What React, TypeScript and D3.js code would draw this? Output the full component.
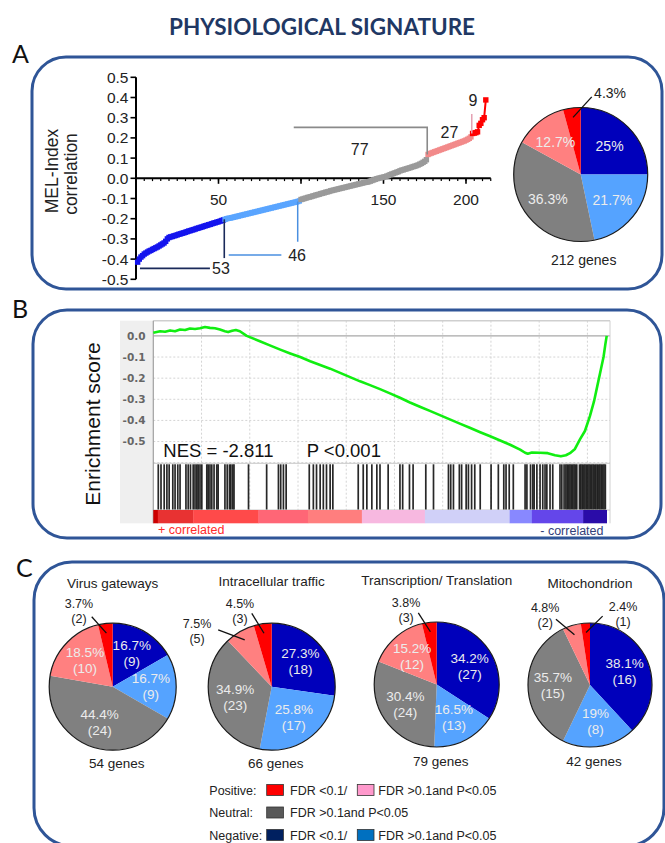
import React from "react";
import * as d3 from "d3";

const FONT = "Liberation Sans, Arial, Helvetica, sans-serif";
const HEAD_FONT = "Lato, Open Sans, sans-serif";

// ---------------- Panel A data ----------------
const melCorrelation = [
  -0.415, -0.4, -0.39, -0.383, -0.375, -0.37, -0.365, -0.36, -0.357, -0.352,
  -0.348, -0.344, -0.34, -0.335, -0.33, -0.325, -0.32, -0.312, -0.3, -0.293,
  -0.29, -0.288, -0.285, -0.283, -0.28, -0.277, -0.275, -0.272, -0.27, -0.267,
  -0.264, -0.261, -0.259, -0.256, -0.254, -0.251, -0.248, -0.246, -0.243, -0.241,
  -0.238, -0.235, -0.233, -0.23, -0.228, -0.225, -0.222, -0.22, -0.217, -0.215,
  -0.212, -0.209, -0.206,
  -0.203, -0.2, -0.198, -0.197, -0.195, -0.193, -0.191, -0.189, -0.187, -0.185,
  -0.183, -0.181, -0.179, -0.177, -0.175, -0.173, -0.171, -0.169, -0.167, -0.165,
  -0.163, -0.161, -0.159, -0.157, -0.155, -0.153, -0.151, -0.149, -0.147, -0.145,
  -0.143, -0.141, -0.139, -0.137, -0.135, -0.133, -0.131, -0.129, -0.127, -0.125,
  -0.123, -0.121, -0.119, -0.117, -0.115, -0.112,
  -0.105, -0.103, -0.1, -0.098, -0.095, -0.093, -0.091, -0.088, -0.086, -0.083,
  -0.081, -0.079, -0.076, -0.074, -0.072, -0.069, -0.067, -0.065, -0.062, -0.06, -0.058,
  -0.056, -0.054, -0.052, -0.05, -0.048, -0.046, -0.044, -0.042, -0.04, -0.038,
  -0.036, -0.034, -0.032, -0.03, -0.028, -0.026, -0.024, -0.022, -0.02, -0.019, -0.017,
  -0.014, -0.011, -0.008, -0.005, -0.002, 0.0, 0.002, 0.004, 0.006, 0.008,
  0.011, 0.014, 0.018, 0.021, 0.024, 0.027, 0.03, 0.033, 0.037, 0.04,
  0.042, 0.045, 0.047, 0.05, 0.052, 0.055, 0.058, 0.06, 0.063, 0.066,
  0.07, 0.074, 0.079, 0.084, 0.092,
  0.118, 0.122, 0.125, 0.128, 0.131, 0.134, 0.137, 0.14, 0.143, 0.146,
  0.149, 0.152, 0.155, 0.158, 0.161, 0.164, 0.167, 0.17, 0.173, 0.176,
  0.179, 0.182, 0.185, 0.189, 0.193, 0.198, 0.205,
  0.222, 0.224, 0.226, 0.23, 0.262, 0.272, 0.29, 0.3, 0.388,
];
const groupLabels = ["Negative FDR<0.1", "Negative FDR>0.1 P<0.05", "Neutral", "Positive FDR>0.1 P<0.05", "Positive FDR<0.1"];
const groupCounts = [53, 46, 77, 27, 9];
const corrTicks = [-0.5, -0.4, -0.3, -0.2, -0.1, 0, 0.1, 0.2, 0.3, 0.4, 0.5];
const rankTicks = [50, 100, 150, 200];
const rankTickLabels = ["50", "", "150", "200"];
const pieAPct = ["25%", "21.7%", "36.3%", "12.7%", "4.3%"];
const totalGenesA = 212;

// ---------------- Panel B data ----------------
const rankedListSize = 18800;
const esRankPct = [
  0, 1.5, 2.6, 3.7, 4.8, 5.9, 7.0, 8.1, 9.2, 10.3,
  11.4, 12.5, 13.6, 14.7, 15.8, 16.5, 17.4, 18.2, 19.1, 20.6,
  23.5, 25.7, 28.0, 30.2, 32.4, 34.6, 36.8, 39.0, 41.2, 43.4,
  45.6, 47.8, 50.0, 52.2, 54.4, 56.6, 58.8, 61.0, 63.2, 65.4,
  67.6, 69.8, 72.1, 74.3, 76.5, 78.7, 80.9, 82.0, 82.6, 83.5,
  85.3, 87.0, 88.6, 89.9, 91.0, 91.9, 93.0, 94.1, 95.2, 96.3,
  97.2, 98.1, 98.7, 99.3, 99.7, 100,
];
const esScore = [
  0.015, 0.022, 0.02, 0.026, 0.022, 0.03, 0.028, 0.035, 0.033, 0.036,
  0.042, 0.038, 0.036, 0.03, 0.022, 0.018, 0.024, 0.028, 0.022, 0.0,
  -0.025, -0.045, -0.065, -0.083, -0.1, -0.12, -0.138, -0.155, -0.175, -0.195,
  -0.215, -0.233, -0.252, -0.272, -0.293, -0.315, -0.335, -0.355, -0.375, -0.395,
  -0.415, -0.435, -0.456, -0.475, -0.495, -0.515, -0.538, -0.553, -0.558, -0.552,
  -0.553, -0.555, -0.565, -0.57, -0.565, -0.555, -0.535, -0.49, -0.45, -0.38,
  -0.31, -0.22, -0.16, -0.1, -0.04, 0.0,
];
const hitRankPct = [
  1.1, 1.7, 2.4, 3.0, 3.5, 4.3, 4.8, 5.4, 5.9, 7.2, 7.7, 8.2, 8.8, 9.2, 9.6, 9.9,
  10.3, 10.7, 11.8, 12.1, 12.5, 12.9, 13.4, 14.0, 14.3, 15.8, 16.3, 16.8, 17.1, 17.5, 17.8,
  21.0, 25.0, 27.6, 28.1, 28.7, 29.3, 34.4, 35.3, 36.0, 36.8, 37.5, 38.2, 39.0, 39.6,
  45.2, 46.3, 47.1, 48.2, 49.3, 50.0, 51.8, 54.4, 55.0, 56.5, 57.3, 60.1, 61.8,
  65.1, 65.6, 66.2, 67.5, 68.0, 69.0, 69.5, 70.2, 70.9, 72.1, 74.5, 76.1, 77.3,
  77.8, 78.5, 79.4, 82.0, 82.4, 83.2, 83.7, 84.0, 84.6, 85.3, 85.9, 86.4, 86.8,
  87.5, 88.1, 89.7, 90.1, 90.6, 91.0, 91.3, 91.6, 91.9, 92.2, 92.5, 92.8, 93.1,
  93.4, 94.0, 94.3, 94.6, 94.9, 95.2, 95.5, 95.8, 96.1, 96.4, 96.7, 97.0, 97.3,
  97.6, 97.9, 98.2, 98.5, 98.8, 99.1, 99.4, 99.7,
];
const esTicks = [0, -0.1, -0.2, -0.3, -0.4, -0.5];
const rankBarBreaksPct = [0, 1.0, 8.8, 23.2, 34.1, 46.0, 59.9, 78.6, 83.5, 94.8, 100];
const rankBarColors = ["#cc0000", "#e83232", "#ff4a4a", "#ff6676", "#ff7e7e", "#f7b8e0", "#d0d0f8", "#8888ff", "#6446ea", "#2a0ca8"];
const nesLabel = "NES = -2.811";
const pLabel = "P <0.001";

// ---------------- Panel C data ----------------
const categories = ["Virus gateways", "Intracellular traffic", "Transcription/ Translation", "Mitochondrion"];
const categoryCounts = [
  [9, 9, 24, 10, 2],
  [18, 17, 23, 5, 3],
  [27, 13, 24, 12, 3],
  [16, 8, 15, 2, 1],
];
const categoryPct = [
  ["16.7%", "16.7%", "44.4%", "18.5%", "3.7%"],
  ["27.3%", "25.8%", "34.9%", "7.5%", "4.5%"],
  ["34.2%", "16.5%", "30.4%", "15.2%", "3.8%"],
  ["38.1%", "19%", "35.7%", "4.8%", "2.4%"],
];
const legendRowLabels = ["Positive:", "Neutral:", "Negative:"];
const legendItems = [
  ["FDR <0.1/", "FDR >0.1and P<0.05"],
  ["FDR >0.1and P<0.05"],
  ["FDR <0.1/", "FDR >0.1and P<0.05"],
];

// ---------------- styles / layout ----------------
const BOX = "#2f5597";
const scatterColors = ["#1414ee", "#5aa5ff", "#9a9a9a", "#f28a8a", "#ff0000"];
const pieColors = ["#0000bb", "#55a3ff", "#808080", "#ff8080", "#ff0000"];
const legendColors = [["#ff0000", "#ff99cc"], ["#595959"], ["#002060", "#0070c0"]];
const pieCenters = [[112.7, 686.7], [271.7, 686.7], [436.7, 684.5], [590, 685]];
const pieRadii = [63.5, 63.5, 62.5, 62];
const titleBaselines = [588, 586, 585, 588];
const calloutsC = [
  [{ slice: 4, outer: [343.3, 73], label: [336, 83] }],
  [{ slice: 3, outer: [316.7, 78], label: [306.6, 93] }, { slice: 4, outer: [344.8, 76], label: [337.4, 82.5] }],
  [{ slice: 4, outer: [345.6, 74], label: [337.8, 81] }],
  [{ slice: 3, outer: [332.6, 74], label: [327.3, 83] }, { slice: 4, outer: [10.4, 70], label: [25.1, 78] }],
];

const polar = (deg: number, r: number) => [r * Math.sin((deg * Math.PI) / 180), -r * Math.cos((deg * Math.PI) / 180)];

function PieC({ idx }: { idx: number }) {
  const [cx, cy] = pieCenters[idx];
  const r = pieRadii[idx];
  const counts = categoryCounts[idx];
  const arcs = d3.pie<number>().sort(null).value((d) => d)(counts);
  const arcGen = d3.arc<d3.PieArcDatum<number>>().innerRadius(0).outerRadius(r);
  const callouts = calloutsC[idx];
  const calloutSlices = callouts.map((c) => c.slice);
  const total = d3.sum(counts);
  return (
    <g>
      <text x={cx} y={titleBaselines[idx]} textAnchor="middle" fontSize={13.5} fill="#222">{categories[idx]}</text>
      <g transform={`translate(${cx},${cy})`}>
        {arcs.map((a, i) => (
          <path key={i} d={arcGen(a) || ""} fill={pieColors[i]} />
        ))}
        <circle r={r} fill="none" stroke="#1a1a1a" strokeWidth={1.2} />
        {arcs.map((a, i) => {
          if (calloutSlices.includes(i)) return null;
          const mid = (a.startAngle + a.endAngle) / 2;
          const lr = r * 0.6;
          const x = lr * Math.sin(mid);
          const y = -lr * Math.cos(mid);
          return (
            <text key={i} textAnchor="middle" fontSize={13.5} fill="#ececec">
              <tspan x={x} y={y - 3.5}>{categoryPct[idx][i]}</tspan>
              <tspan x={x} y={y + 12.5}>{`(${counts[i]})`}</tspan>
            </text>
          );
        })}
        {callouts.map((c, k) => {
          const a = arcs[c.slice];
          const midDeg = (((a.startAngle + a.endAngle) / 2) * 180) / Math.PI;
          const [x1, y1] = polar(midDeg, r * 0.85);
          const [x2, y2] = polar(c.outer[0], c.outer[1]);
          const [lx, ly] = polar(c.label[0], c.label[1]);
          return (
            <g key={k}>
              <line x1={x1} y1={y1} x2={x2} y2={y2} stroke="#111" strokeWidth={1.3} />
              <text textAnchor="middle" fontSize={12.5} fill="#222">
                <tspan x={lx} y={ly - 3}>{categoryPct[idx][c.slice]}</tspan>
                <tspan x={lx} y={ly + 12}>{`(${counts[c.slice]})`}</tspan>
              </text>
            </g>
          );
        })}
      </g>
      <text x={cx + 4} y={cy + 81} textAnchor="middle" fontSize={13.5} fill="#222">{`${total} genes`}</text>
    </g>
  );
}

export default function App() {
  // ---------- Panel A scatter ----------
  const xA = d3.scaleLinear().domain([0, 215]).range([136, 490.75]);
  const yA = d3.scaleLinear().domain([-0.5, 0.5]).range([279.3, 77.3]);
  const cum = d3.cumsum(groupCounts);
  const groupOf = (rank: number) => cum.findIndex((c) => rank <= c);
  const points = melCorrelation.map((v, i) => ({ rank: i + 1, v, g: groupOf(i + 1) }));
  const lineA = d3.line<{ rank: number; v: number }>().x((d) => xA(d.rank)).y((d) => yA(d.v));
  const minorTicks = d3.range(5, 216, 5);
  const valAt = (rank: number) => melCorrelation[Math.min(melCorrelation.length - 1, Math.max(0, Math.round(rank) - 1))];
  const b0 = cum[0] + 0.5, b1 = cum[1] + 0.5, b2 = cum[2] + 0.5, b3 = cum[3] + 0.5;

  // ---------- Panel A pie ----------
  const pieACx = 580.7, pieACy = 174.5, pieAR = 67;
  const arcsA = d3.pie<number>().sort(null).value((d) => d)(groupCounts);
  const arcA = d3.arc<d3.PieArcDatum<number>>().innerRadius(0).outerRadius(pieAR);

  // ---------- Panel B ----------
  const xB = d3.scaleLinear().domain([0, rankedListSize]).range([153.3, 606.7]);
  const yB = d3.scaleLinear().domain([-0.603, 0.072]).range([463.3, 320.7]);
  const esLine = d3.line<number>().x((_, i) => xB((esRankPct[i] / 100) * rankedListSize)).y((d) => yB(d));
  const gridRanks = d3.range(2000, rankedListSize, 2000);
  const hitTop = 464.3, hitBot = 510, barBot = 523.3, frameRight = 610;
  const SQ = 5.4;

  return (
    <div style={{ position: "absolute", left: 0, top: 0 }}>
      <svg width={665} height={843} style={{ display: "block", background: "#fff", fontFamily: FONT }}>
        {/* Title */}
        <text x={322} y={35} textAnchor="middle" style={{ fontFamily: HEAD_FONT }} fontWeight={700} fontSize={22.5} fill="#1f3864">PHYSIOLOGICAL SIGNATURE</text>
        <text x={12} y={63} style={{ fontFamily: HEAD_FONT }} fontSize={25} fill="#111">A</text>
        <text x={12} y={318} style={{ fontFamily: HEAD_FONT }} fontSize={25} fill="#111">B</text>
        <text x={16} y={577} style={{ fontFamily: HEAD_FONT }} fontSize={25} fill="#111">C</text>

        {/* Boxes */}
        <rect x={32} y={57} width={630} height={232} rx={34} fill="none" stroke={BOX} strokeWidth={3} />
        <rect x={33} y={310} width={628} height={228} rx={34} fill="none" stroke={BOX} strokeWidth={3} />
        <rect x={34} y={562} width={630} height={284} rx={38} fill="none" stroke={BOX} strokeWidth={3} />

        {/* ---------- Panel A scatter ---------- */}
        <g>
          <text transform={`translate(52,171) rotate(-90)`} textAnchor="middle" dominantBaseline="central" fontSize={17.5} fill="#222">MEL-Index</text>
          <text transform={`translate(71,174) rotate(-90)`} textAnchor="middle" dominantBaseline="central" fontSize={17.5} fill="#222">correlation</text>
          <line x1={xA(0)} x2={xA(0)} y1={yA(-0.5)} y2={yA(0.5)} stroke="#000" strokeWidth={2} />
          {corrTicks.map((t) => (
            <g key={t}>
              <line x1={xA(0) - 5.5} x2={xA(0)} y1={yA(t)} y2={yA(t)} stroke="#000" strokeWidth={1.6} />
              <text x={128.5} y={yA(t)} dy="0.36em" textAnchor="end" fontSize={15.5} fill="#222">{t.toFixed(1)}</text>
            </g>
          ))}
          <line x1={xA(0)} x2={xA(215)} y1={yA(0)} y2={yA(0)} stroke="#000" strokeWidth={2} />
          {minorTicks.map((t) => (
            <line key={t} x1={xA(t)} x2={xA(t)} y1={yA(0)} y2={yA(0) + 2.8} stroke="#000" strokeWidth={1.2} />
          ))}
          {rankTicks.map((t, i) => (
            <g key={t}>
              <line x1={xA(t)} x2={xA(t)} y1={yA(0)} y2={yA(0) + 5.5} stroke="#000" strokeWidth={1.6} />
              {rankTickLabels[i] && (
                <text x={xA(t)} y={yA(0) + 26.5} textAnchor="middle" fontSize={15.5} fill="#222">{rankTickLabels[i]}</text>
              )}
            </g>
          ))}
          {groupCounts.map((_, g) => (
            <path key={g} d={lineA(points.filter((p) => p.g === g)) || ""} fill="none" stroke={scatterColors[g]} strokeWidth={2} />
          ))}
          {points.map((p) => (
            <rect key={p.rank} x={xA(p.rank) - SQ / 2} y={yA(p.v) - SQ / 2} width={SQ} height={SQ} fill={scatterColors[p.g]} />
          ))}
          {/* annotations */}
          <line x1={xA(b0)} x2={xA(b0)} y1={yA(valAt(b0))} y2={yA(-0.395)} stroke="#1a2a5a" strokeWidth={1.6} />
          <line x1={xA(2.4)} x2={xA(44.8)} y1={yA(-0.446)} y2={yA(-0.446)} stroke="#1a2a5a" strokeWidth={1.6} />
          <text x={xA(51.5)} y={yA(-0.446)} dy="0.36em" textAnchor="middle" fontSize={16} fill="#222">{groupCounts[0]}</text>
          <line x1={xA(b1 - 1.5)} x2={xA(b1 - 1.5)} y1={yA(valAt(b1 - 1.5))} y2={yA(-0.314)} stroke="#4a8fe0" strokeWidth={1.5} />
          <line x1={xA(56.2)} x2={xA(88.1)} y1={yA(-0.38)} y2={yA(-0.38)} stroke="#4a8fe0" strokeWidth={1.5} />
          <text x={xA(97.6)} y={yA(-0.38)} dy="0.36em" textAnchor="middle" fontSize={16} fill="#222">{groupCounts[1]}</text>
          <polyline points={`${xA(95.6)},${yA(0.252)} ${xA(b2)},${yA(0.252)} ${xA(b2)},${yA(valAt(b2))}`} fill="none" stroke="#8a8a8a" strokeWidth={1.6} />
          <text x={xA(135.6)} y={yA(0.145)} dy="0.36em" textAnchor="middle" fontSize={16} fill="#222">{groupCounts[2]}</text>
          <line x1={xA(b3)} x2={xA(b3)} y1={yA(0.318)} y2={yA(valAt(b3))} stroke="#e4a0b2" strokeWidth={1.5} />
          <text x={xA(190)} y={yA(0.227)} dy="0.36em" textAnchor="middle" fontSize={16} fill="#222">{groupCounts[3]}</text>
          <text x={xA(204.2)} y={yA(0.385)} dy="0.36em" textAnchor="middle" fontSize={16} fill="#222">{groupCounts[4]}</text>
        </g>

        {/* ---------- Panel A pie ---------- */}
        <g transform={`translate(${pieACx},${pieACy})`}>
          {arcsA.map((a, i) => (
            <path key={i} d={arcA(a) || ""} fill={pieColors[i]} />
          ))}
          <circle r={pieAR} fill="none" stroke="#1a1a1a" strokeWidth={1.2} />
          {arcsA.map((a, i) => {
            if (i === 4) return null;
            const mid = (a.startAngle + a.endAngle) / 2;
            const lr = pieAR * 0.61;
            return (
              <text key={i} x={lr * Math.sin(mid)} y={-lr * Math.cos(mid)} dy="0.36em" textAnchor="middle" fontSize={14} fill="#ececec">{pieAPct[i]}</text>
            );
          })}
          {(() => {
            const a = arcsA[4];
            const midDeg = (((a.startAngle + a.endAngle) / 2) * 180) / Math.PI;
            const [x1, y1] = polar(midDeg, pieAR * 0.86);
            const [x2, y2] = polar(8.1, 78.4);
            const [lx, ly] = polar(19.8, 86.7);
            return (
              <g>
                <line x1={x1} y1={y1} x2={x2} y2={y2} stroke="#111" strokeWidth={1.3} />
                <text x={lx} y={ly} dy="0.36em" textAnchor="middle" fontSize={14} fill="#222">{pieAPct[4]}</text>
              </g>
            );
          })()}
        </g>
        <text x={pieACx + 3} y={265} textAnchor="middle" fontSize={14} fill="#222">{`${totalGenesA} genes`}</text>

        {/* ---------- Panel B ---------- */}
        <g>
          <rect x={120} y={yB(0.072)} width={153.3 - 120} height={barBot - yB(0.072)} fill="#efefef" />
          <rect x={153.3} y={yB(0.072)} width={frameRight - 153.3} height={hitBot - yB(0.072)} fill="#fff" />
          {gridRanks.map((g) => (
            <line key={g} x1={xB(g)} x2={xB(g)} y1={yB(0.072)} y2={hitBot} stroke="#d4d4d4" strokeWidth={1} strokeDasharray="2,2" />
          ))}
          {[-0.1, -0.2, -0.3, -0.4, -0.5, -0.6].map((t) => (
            <line key={t} x1={153.3} x2={frameRight} y1={yB(t)} y2={yB(t)} stroke="#d4d4d4" strokeWidth={1} strokeDasharray="2,2" />
          ))}
          <line x1={153.3} x2={frameRight} y1={yB(0)} y2={yB(0)} stroke="#a8a8a8" strokeWidth={1.2} />
          <line x1={153.3} x2={frameRight} y1={yB(0.072)} y2={yB(0.072)} stroke="#cfcfcf" strokeWidth={1.5} />
          <line x1={frameRight} x2={frameRight} y1={yB(0.072)} y2={barBot} stroke="#d0d0d0" strokeWidth={1} />
          <line x1={153.3} x2={frameRight} y1={hitTop - 1} y2={hitTop - 1} stroke="#c8c8c8" strokeWidth={1} />
          <line x1={153.3} x2={frameRight} y1={hitBot} y2={hitBot} stroke="#c8c8c8" strokeWidth={1} />
          <line x1={153.3} x2={153.3} y1={yB(0.072)} y2={barBot} stroke="#a0a0a0" strokeWidth={1.2} />
          {esTicks.map((t) => (
            <text key={t} x={145.5} y={yB(t)} dy="0.36em" textAnchor="end" style={{ fontFamily: "DejaVu Sans, Verdana, sans-serif" }} fontWeight={700} fontSize={10.5} fill="#666">{t.toFixed(1)}</text>
          ))}
          {hitRankPct.map((h, i) => (
            <line key={i} x1={xB((h / 100) * rankedListSize)} x2={xB((h / 100) * rankedListSize)} y1={hitTop} y2={hitBot - 0.5} stroke="#111" strokeOpacity={0.9} strokeWidth={1.7} />
          ))}
          {rankBarColors.map((c, i) => (
            <rect key={i} x={xB((rankBarBreaksPct[i] / 100) * rankedListSize)} y={hitBot} width={xB((rankBarBreaksPct[i + 1] / 100) * rankedListSize) - xB((rankBarBreaksPct[i] / 100) * rankedListSize) + 0.3} height={barBot - hitBot} fill={c} />
          ))}
          <path d={esLine(esScore) || ""} fill="none" stroke="#11ee11" strokeWidth={2.6} strokeLinejoin="round" />
          <text x={163.3} y={456.5} fontSize={18.5} fill="#111">{nesLabel}</text>
          <text x={306.7} y={456.5} fontSize={18.5} fill="#111">{pLabel}</text>
          <text x={158} y={533.5} fontSize={12.5} fill="#ff2a2a">+ correlated</text>
          <text x={603.5} y={535} textAnchor="end" fontSize={12.5} fill="#33407a">- correlated</text>
          <text transform="translate(92,424) rotate(-90)" textAnchor="middle" dominantBaseline="central" fontSize={21} fill="#111">Enrichment score</text>
        </g>

        {/* ---------- Panel C ---------- */}
        {categories.map((_, i) => (
          <PieC key={i} idx={i} />
        ))}

        {/* Legend */}
        {legendRowLabels.map((lab, r) => {
          const cy = 790 + r * 22.5;
          return (
            <g key={lab}>
              <text x={209.3} y={cy + 4.5} fontSize={12.5} fill="#222">{lab}</text>
              {legendItems[r].map((it, k) => {
                const bx = k === 0 ? 266.7 : 357.3;
                const tx = k === 0 ? 290 : 378.3;
                return (
                  <g key={k}>
                    <rect x={bx} y={cy - 5.5} width={16.7} height={11} fill={legendColors[r][k]} stroke="#333" strokeWidth={0.8} />
                    <text x={tx} y={cy + 4.5} fontSize={12.5} fill="#222">{it}</text>
                  </g>
                );
              })}
            </g>
          );
        })}
      </svg>
    </div>
  );
}
